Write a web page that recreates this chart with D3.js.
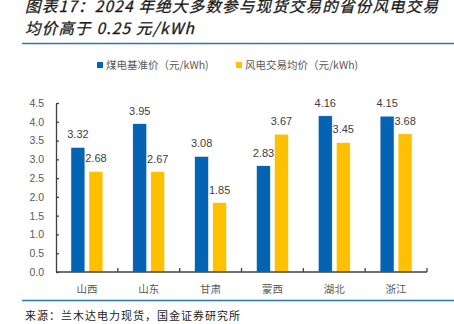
<!DOCTYPE html>
<html>
<head>
<meta charset="utf-8">
<script src="https://cdn.jsdelivr.net/npm/d3@7"></script>
<style>
  body { margin: 0; background: #fff; }
  svg { display: block; }
</style>
</head>
<body>
<script>
// chart data
let provinces = ["山西", "山东", "甘肃", "蒙西", "湖北", "浙江"];
let coalPrice = [3.32, 3.95, 3.08, 2.83, 4.16, 4.15];
let windPrice = [2.68, 2.67, 1.85, 3.67, 3.45, 3.68];
let seriesNames = ["煤电基准价（元/kWh)", "风电交易均价（元/kWh)"];
let yTicks = [0, 0.5, 1.0, 1.5, 2.0, 2.5, 3.0, 3.5, 4.0, 4.5];

let width = 454, height = 324;
let colors = ["#0563B4", "#FFC000"];
let cjk = "'Noto Sans CJK SC', 'Noto Sans', sans-serif";
let grey = "#595959";

let svg = d3.select("body").append("svg")
  .attr("width", width)
  .attr("height", height);

// title (first line is clipped at the top, as in the source image)
svg.append("text")
  .attr("x", 25).attr("y", 11.5)
  .attr("font-family", cjk).attr("font-size", 15.5)
  .attr("font-style", "italic")
  .attr("letter-spacing", 1.2)
  .attr("fill", "#1a1a1a")
  .attr("stroke", "#1a1a1a").attr("stroke-width", 0.3)
  .text("图表17：2024 年绝大多数参与现货交易的省份风电交易");
svg.append("text")
  .attr("x", 25).attr("y", 34)
  .attr("font-family", cjk).attr("font-size", 15.5)
  .attr("font-style", "italic")
  .attr("letter-spacing", 1.2)
  .attr("fill", "#1a1a1a")
  .attr("stroke", "#1a1a1a").attr("stroke-width", 0.3)
  .text("均价高于 0.25 元/kWh");

// rules
svg.append("line").attr("x1", 22).attr("x2", width).attr("y1", 43.5).attr("y2", 43.5)
  .attr("stroke", "#2E75B6").attr("stroke-width", 1.5);
svg.append("line").attr("x1", 22).attr("x2", width).attr("y1", 300.5).attr("y2", 300.5)
  .attr("stroke", "#2E75B6").attr("stroke-width", 1.5);

// source
svg.append("text")
  .attr("x", 25).attr("y", 320)
  .attr("font-family", cjk).attr("font-size", 11)
  .attr("letter-spacing", 1)
  .attr("fill", "#222")
  .text("来源：兰木达电力现货，国金证券研究所");

// legend
let legendX = [97, 236];
seriesNames.forEach((name, i) => {
  svg.append("rect")
    .attr("x", legendX[i]).attr("y", 62)
    .attr("width", 6).attr("height", 6)
    .attr("fill", colors[i]);
  svg.append("text")
    .attr("x", legendX[i] + 9).attr("y", 65)
    .attr("dy", "0.35em")
    .attr("font-family", cjk).attr("font-size", 10.5)
    .attr("fill", grey)
    .text(name);
});

// scales
let x0 = d3.scaleBand().domain(provinces).range([56, 427]).paddingInner(0).paddingOuter(0);
let y = d3.scaleLinear().domain([0, 4.5]).range([272, 103]);
let barW = 14, gap = 4;

// y axis
let yAxis = svg.append("g")
  .attr("transform", "translate(56,0)")
  .call(d3.axisLeft(y).tickValues(yTicks).tickFormat(d3.format(".1f")).tickSizeInner(-3).tickSizeOuter(0).tickPadding(12));
yAxis.select(".domain").attr("stroke", "#404040").attr("stroke-width", 1.3);
yAxis.selectAll(".tick line").attr("stroke", "#404040").attr("stroke-width", 1.3);
yAxis.selectAll("text").attr("font-family", "'Liberation Sans', Arial, sans-serif")
  .attr("font-size", 10.5).attr("fill", grey);

// bars
let groups = svg.selectAll(".grp")
  .data(provinces)
  .join("g")
  .attr("class", "grp")
  .attr("transform", d => `translate(${x0(d) + x0.bandwidth() / 2},0)`);

[coalPrice, windPrice].forEach((vals, s) => {
  let off = s === 0 ? -gap / 2 - barW : gap / 2;
  groups.append("rect")
    .attr("x", off)
    .attr("y", (d, i) => y(vals[i]))
    .attr("width", barW)
    .attr("height", (d, i) => y(0) - y(vals[i]))
    .attr("fill", colors[s])
    .attr("stroke", "#fff").attr("stroke-width", 0.6);
  groups.append("text")
    .attr("x", off + barW / 2)
    .attr("y", (d, i) => y(vals[i]) - 9)
    .attr("text-anchor", "middle")
    .attr("font-family", "'Liberation Sans', Arial, sans-serif")
    .attr("font-size", 11)
    .attr("fill", "#404040")
    .text((d, i) => vals[i].toFixed(2));
});

// x axis
let xAxis = svg.append("g");
xAxis.append("line")
  .attr("x1", 56).attr("x2", 427).attr("y1", 272).attr("y2", 272)
  .attr("stroke", "#404040").attr("stroke-width", 1.5);
xAxis.selectAll(".xtick")
  .data(provinces.slice(1).concat(["end"]))
  .join("line")
  .attr("x1", (d, i) => x0(provinces[0]) + x0.bandwidth() * (i + 1))
  .attr("x2", (d, i) => x0(provinces[0]) + x0.bandwidth() * (i + 1))
  .attr("y1", 272).attr("y2", 268)
  .attr("stroke", "#404040").attr("stroke-width", 1.3);
xAxis.selectAll(".xlab")
  .data(provinces)
  .join("text")
  .attr("x", d => x0(d) + x0.bandwidth() / 2)
  .attr("y", 289)
  .attr("dy", "0.35em")
  .attr("text-anchor", "middle")
  .attr("font-family", cjk).attr("font-size", 10.5)
  .attr("fill", grey)
  .text(d => d);
</script>
</body>
</html>
